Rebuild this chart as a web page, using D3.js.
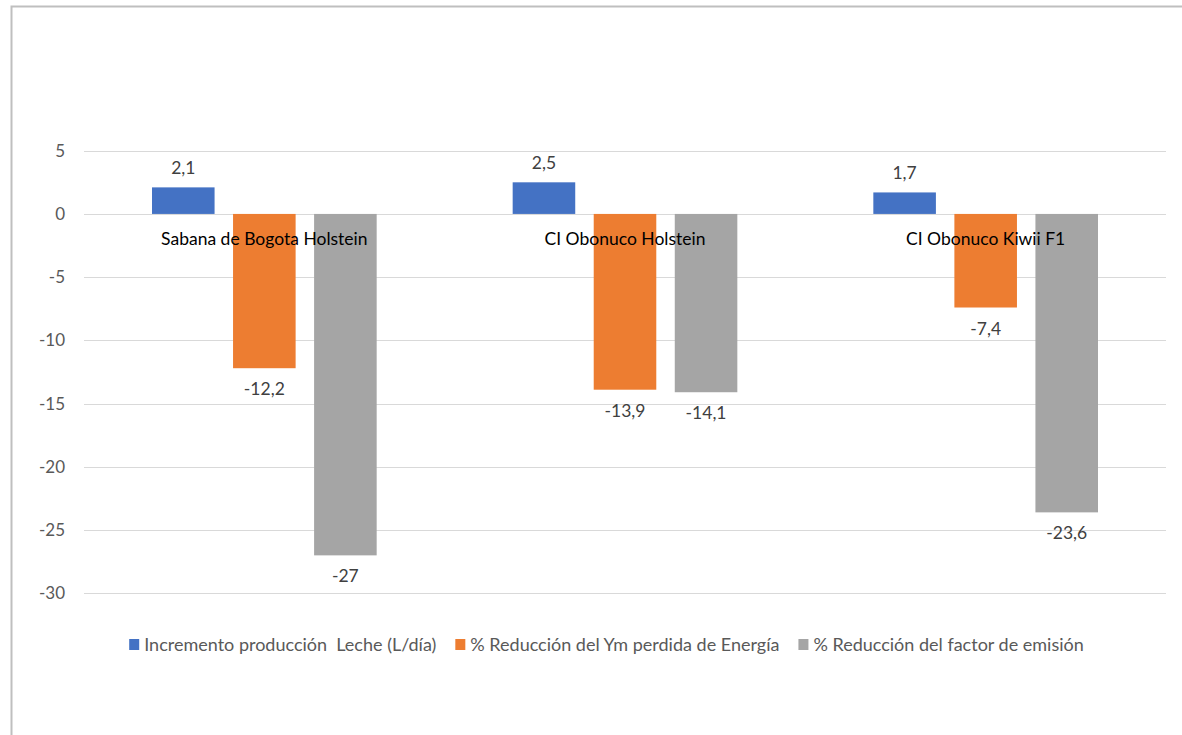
<!DOCTYPE html>
<html>
<head>
<meta charset="utf-8">
<script src="https://cdn.jsdelivr.net/npm/d3@7"></script>
<style>
  html, body { margin: 0; padding: 0; background: #fff; }
  svg { display: block; }
  text { font-family: Lato, "Open Sans", sans-serif; }
</style>
</head>
<body>
<svg id="chart" width="1182" height="735"></svg>
<script>
// Categories (breeds / locations)
const categories = ["Sabana de Bogota Holstein", "CI Obonuco Holstein", "CI Obonuco Kiwii F1"];

// Series names and values per category
const seriesNames = [
  "Incremento producción  Leche (L/día)",
  "% Reducción del Ym perdida de Energía",
  "% Reducción del factor de emisión"
];
const lecheValues = [2.1, 2.5, 1.7];
const ymValues = [-12.2, -13.9, -7.4];
const factorValues = [-27, -14.1, -23.6];

// Axis ticks
const yTicks = [5, 0, -5, -10, -15, -20, -25, -30];

const seriesColors = ["#4472C4", "#ED7D31", "#A5A5A5"];
const seriesValues = [lecheValues, ymValues, factorValues];

const svg = d3.select("#chart");
const W = 1182, H = 735;

// Chart area border
svg.append("rect")
  .attr("x", 11.5).attr("y", 6.5)
  .attr("width", W + 20).attr("height", H + 20)
  .attr("fill", "#fff")
  .attr("stroke", "#BFBFBF")
  .attr("stroke-width", 2);

const plot = { left: 84, right: 1166 };

const y = d3.scaleLinear().domain([-30, 5]).range([593.3, 150.7]);

const x0 = d3.scaleBand().domain(categories).range([plot.left, plot.right]).padding(0);
const catW = x0.bandwidth();
const outer = 68;
const x1 = d3.scaleBand().domain(d3.range(seriesNames.length))
  .range([outer, catW - outer]).paddingInner(0.228).paddingOuter(0);

// Gridlines
svg.append("g")
  .selectAll("line")
  .data(yTicks)
  .join("line")
  .attr("x1", plot.left).attr("x2", plot.right)
  .attr("y1", d => Math.round(y(d)) + 0.5).attr("y2", d => Math.round(y(d)) + 0.5)
  .attr("stroke", "#D9D9D9").attr("stroke-width", 1);

// Y axis labels (plain hyphen for negatives)
const yAxis = d3.axisLeft(y).tickValues(yTicks).tickSize(0).tickPadding(0)
  .tickFormat(d => String(d));
const gy = svg.append("g").attr("transform", `translate(${plot.left - 19},0)`).call(yAxis);
gy.select(".domain").remove();
gy.selectAll("text")
  .attr("fill", "#595959")
  .style("font-size", "17px")
  .style("font-family", "Lato, 'Open Sans', sans-serif");

// Bars
const rows = [];
categories.forEach((c, ci) => {
  seriesValues.forEach((vals, si) => rows.push({ cat: c, si, v: vals[ci] }));
});

const barX = d => x0(d.cat) + x1(d.si);

svg.append("g")
  .selectAll("rect")
  .data(rows)
  .join("rect")
  .attr("x", barX)
  .attr("width", x1.bandwidth())
  .attr("y", d => y(Math.max(0, d.v)))
  .attr("height", d => Math.abs(y(d.v) - y(0)))
  .attr("fill", d => seriesColors[d.si]);

// Value labels
const fmt = v => String(v).replace(".", ",");
svg.append("g")
  .selectAll("text")
  .data(rows)
  .join("text")
  .attr("x", d => barX(d) + x1.bandwidth() / 2)
  .attr("y", d => d.v >= 0 ? y(d.v) - 13 : y(d.v) + 27)
  .attr("text-anchor", "middle")
  .attr("fill", "#404040")
  .style("font-size", "17.5px")
  .text(d => fmt(d.v));

// Category labels just under the zero line
svg.append("g")
  .selectAll("text")
  .data(categories)
  .join("text")
  .attr("x", d => x0(d) + catW / 2)
  .attr("y", y(0) + 31)
  .attr("text-anchor", "middle")
  .attr("fill", "#000")
  .style("font-size", "17.5px")
  .text(d => d);

// Legend
const legend = svg.append("g").attr("transform", "translate(0,645)");
const items = legend.selectAll("g").data(seriesNames).join("g");
items.append("rect")
  .attr("width", 10).attr("height", 11).attr("y", -6)
  .attr("fill", (d, i) => seriesColors[i]);
items.append("text")
  .attr("x", 15).attr("y", 6)
  .attr("fill", "#595959")
  .style("font-size", "18px")
  .style("white-space", "pre")
  .attr("xml:space", "preserve")
  .text(d => d);

const gap = 19;
const widths = [];
items.each(function () {
  widths.push(15 + this.querySelector("text").getComputedTextLength());
});
const total = d3.sum(widths) + gap * (widths.length - 1);
let cx = 606.5 - total / 2;
items.each(function (d, i) {
  d3.select(this).attr("transform", `translate(${cx},0)`);
  cx += widths[i] + gap;
});
</script>
</body>
</html>
